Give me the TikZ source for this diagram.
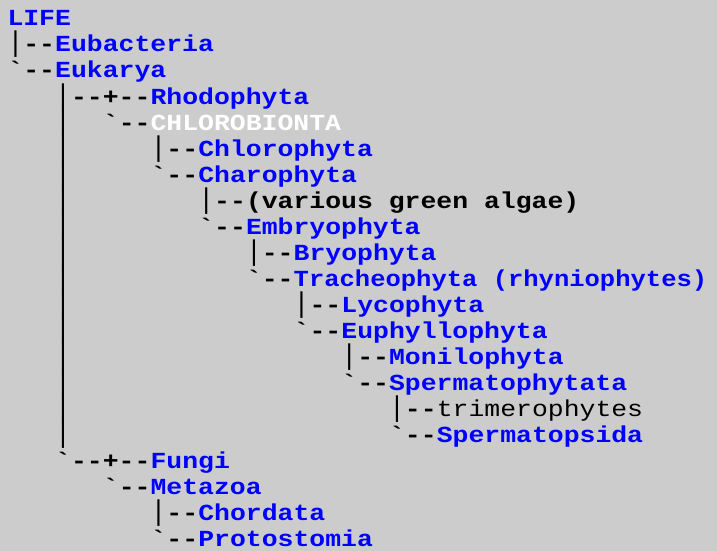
\documentclass[tikz,border=0pt]{standalone}
\usepackage{graphicx}
\usepackage{fontspec}
\setmonofont{Liberation Mono}[FakeStretch=1.15]
\definecolor{bggray}{HTML}{CCCCCC}
\definecolor{linkblue}{HTML}{0000FF}
\newcommand{\treebar}{{\mdseries\scalebox{1}[1.24]{|}}}

\begin{document}
\begin{tikzpicture}[x=15.9pt,y=-26pt]
\tikzset{
  ascii/.style={anchor=base west,inner sep=0pt,outer sep=0pt,font=\ttfamily\bfseries\fontsize{23}{26}\selectfont},
  branch/.style={ascii,text=black},
  taxon/.style={ascii,text=linkblue},
  clade/.style={ascii,text=white},
  grade/.style={ascii,text=black},
  thingrade/.style={grade,font=\ttfamily\mdseries\fontsize{23}{26}\selectfont}
}
\useasboundingbox[fill=bggray] (-7.5pt,26pt) rectangle (709.5pt,-525pt);
% root and first split
\node[taxon] (n_life) at (0,0) {LIFE};
\node[branch] (b_eubacteria) at (0,1) {\treebar--};
\node[taxon] (n_eubacteria) at (3,1) {Eubacteria};
\node[branch] (b_eukarya) at (0,2) {`--};
\node[taxon] (n_eukarya) at (3,2) {Eukarya};
% eukaryote stem
\node[branch] (b_rhodophyta) at (3,3) {\treebar--+--};
\foreach \r in {4,...,16}
  \node[branch] (bar_\r) at (3,\r) {\treebar};
\node[taxon] (n_rhodophyta) at (9,3) {Rhodophyta};
\node[branch] (b_chlorobionta) at (6,4) {`--};
\node[clade] (n_chlorobionta) at (9,4) {CHLOROBIONTA};
\node[branch] (b_chlorophyta) at (9,5) {\treebar--};
\node[taxon] (n_chlorophyta) at (12,5) {Chlorophyta};
\node[branch] (b_charophyta) at (9,6) {`--};
\node[taxon] (n_charophyta) at (12,6) {Charophyta};
\node[branch] (b_algae) at (12,7) {\treebar--};
\node[grade] (n_algae) at (15,7) {(various green algae)};
\node[branch] (b_embryophyta) at (12,8) {`--};
\node[taxon] (n_embryophyta) at (15,8) {Embryophyta};
\node[branch] (b_bryophyta) at (15,9) {\treebar--};
\node[taxon] (n_bryophyta) at (18,9) {Bryophyta};
\node[branch] (b_tracheophyta) at (15,10) {`--};
\node[taxon] (n_tracheophyta) at (18,10) {\scalebox{0.965}[1]{Tracheophyta (rhyniophytes)}};
\node[branch] (b_lycophyta) at (18,11) {\treebar--};
\node[taxon] (n_lycophyta) at (21,11) {Lycophyta};
\node[branch] (b_euphyllophyta) at (18,12) {`--};
\node[taxon] (n_euphyllophyta) at (21,12) {Euphyllophyta};
\node[branch] (b_monilophyta) at (21,13) {\treebar--};
\node[taxon] (n_monilophyta) at (24,13) {Monilophyta};
\node[branch] (b_spermatophytata) at (21,14) {`--};
\node[taxon] (n_spermatophytata) at (24,14) {Spermatophytata};
\node[branch] (b_trimerophytes) at (24,15) {\treebar--};
\node[thingrade] (n_trimerophytes) at (27,15) {trimerophytes};
\node[branch] (b_spermatopsida) at (24,16) {`--};
\node[taxon] (n_spermatopsida) at (27,16) {Spermatopsida};
% opisthokonts
\node[branch] (b_fungi) at (3,17) {`--+--};
\node[taxon] (n_fungi) at (9,17) {Fungi};
\node[branch] (b_metazoa) at (6,18) {`--};
\node[taxon] (n_metazoa) at (9,18) {Metazoa};
\node[branch] (b_chordata) at (9,19) {\treebar--};
\node[taxon] (n_chordata) at (12,19) {Chordata};
\node[branch] (b_protostomia) at (9,20) {`--};
\node[taxon] (n_protostomia) at (12,20) {Protostomia};
\end{tikzpicture}
\end{document}
